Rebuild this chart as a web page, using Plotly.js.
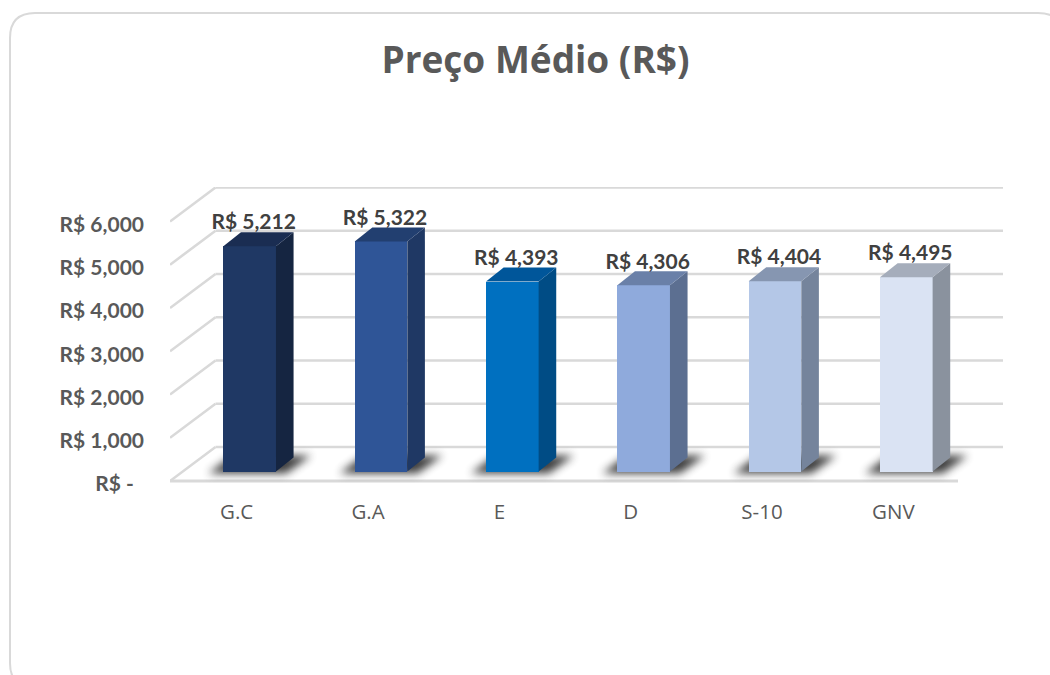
<!DOCTYPE html>
<html>
<head>
<meta charset="utf-8">
<script src="https://cdn.plot.ly/plotly-3.0.1.min.js"></script>
<style>html,body{margin:0;padding:0;background:#fff}#chart{width:1050px;height:675px}</style>
</head>
<body>
<div id="chart"></div>
<script>
// ---- data ----
const categories = ["G.C", "G.A", "E", "D", "S-10", "GNV"];
const values = [5212, 5322, 4393, 4306, 4404, 4495];
const valueLabels = ["R$ 5,212", "R$ 5,322", "R$ 4,393", "R$ 4,306", "R$ 4,404", "R$ 4,495"];
const tickValues = [0, 1000, 2000, 3000, 4000, 5000, 6000];
const tickLabels = ["R$ -\u00a0\u00a0", "R$ 1,000", "R$ 2,000", "R$ 3,000", "R$ 4,000", "R$ 5,000", "R$ 6,000"];
const frontColors = ["#1F3864", "#2F5597", "#0070C0", "#8FAADC", "#B4C7E7", "#DAE3F3"];
const sideColors  = ["#152541", "#1F3864", "#004C85", "#5C6F91", "#75849C", "#8A929E"];
const topColors   = ["#1A2D52", "#223F70", "#00569A", "#6A80A8", "#8696B1", "#A5ADBB"];

// ---- layout geometry (pixels) ----
const W = 1050, H = 675;
const L = 170, R = 1003, B = 481, T = 187;
const belowFloor = 10;             // extra plot height under the zero line
const pxPerCat = 131.33, pxPerUnit = 0.04325;
const X = dx => dx / pxPerCat;     // pixels -> x units
const Y = dy => dy / pxPerUnit;    // pixels -> y units
const xRange = [-0.5, -0.5 + (R - L) / pxPerCat];
const yRange = [-Y(belowFloor), (B - T) / pxPerUnit];

const wallDx = 45.5, wallDy = 34;  // floor depth
const barShift = 14, barLift = 9.4, barW = 52.6; // bar position inside the floor
const depthDx = 17.6, depthDy = 14;  // bar depth
const frontEndX = 958;
const tickLabelDrop = 3;           // labels sit slightly under their gridline ends

const xFront = i => i + X(barShift);
const baseY = Y(barLift);
const x0 = i => xFront(i) - X(barW) / 2;
const x1 = i => xFront(i) + X(barW) / 2;

function polygon(points, color, name) {
  return {type: "scatter", mode: "lines", x: points.map(p => p[0]), y: points.map(p => p[1]),
    fill: "toself", fillcolor: color, line: {width: 0}, hoverinfo: "skip", showlegend: false, name};
}

const traces = [];
traces.push({
  type: "bar", x: categories.map((c, i) => i), y: values, base: baseY,
  width: X(barW), offset: X(barShift) - X(barW) / 2,
  marker: {color: frontColors, line: {width: 0}},
  hoverinfo: "skip", showlegend: false
});
values.forEach((v, i) => {
  const yb = baseY, yt = baseY + v;
  traces.push(polygon([[x1(i), yb], [x1(i) + X(depthDx), yb + Y(depthDy)], [x1(i) + X(depthDx), yt + Y(depthDy)], [x1(i), yt], [x1(i), yb]], sideColors[i], "side"));
  traces.push(polygon([[x0(i), yt], [x1(i), yt], [x1(i) + X(depthDx), yt + Y(depthDy)], [x0(i) + X(depthDx), yt + Y(depthDy)], [x0(i), yt]], topColors[i], "top"));
});
traces.push({
  type: "scatter", mode: "text", x: values.map((v, i) => xFront(i) + X(4)),
  y: values.map(v => baseY + v + Y(depthDy + 8)), text: valueLabels,
  textposition: "middle center", cliponaxis: false,
  textfont: {family: "Lato, 'Open Sans', sans-serif", size: 21, color: "#404040", weight: 700},
  hoverinfo: "skip", showlegend: false
});

// ---- shapes ----
const grid = "#D9D9D9";
const shapes = [];
function line(xa, ya, xb, yb, w) {
  shapes.push({type: "line", layer: "below", xref: "x", yref: "y", x0: xa, y0: ya, x1: xb, y1: yb,
    line: {color: grid, width: w}});
}
const xMin = xRange[0], xMax = xRange[1];
tickValues.forEach(t => {
  line(xMin + X(wallDx), t + Y(wallDy), xMax, t + Y(wallDy), 2.6);
  line(xMin, t, xMin + X(wallDx), t + Y(wallDy), 2.6);
});
line(xMin, 0, xMin + X(frontEndX - L), 0, 2.8);

// floor shadows (softened after the plot is drawn)
const shadowFill = "rgb(30, 30, 30)";
values.forEach((v, i) => {
  const pts = [
    [x0(i) + X(-15), baseY + Y(-2)],
    [x0(i) + X(9), baseY + Y(16)],
    [x1(i) + X(35), baseY + Y(16)],
    [x1(i) + X(10), baseY + Y(-2)]
  ];
  shapes.push({type: "path", layer: "below", xref: "x", yref: "y",
    path: "M" + pts.map(p => p[0] + "," + p[1]).join(" L") + " Z",
    fillcolor: shadowFill, opacity: 0.85, line: {width: 0}});
});

// rounded chart-area border, running past the right and bottom of the image
const px = v => (v - L) / (R - L);
const py = v => (B + belowFloor - v) / (B + belowFloor - T);
const bl = 10, bt = 13, br = 1063, bb = 688, rad = 25;
shapes.push({type: "path", xref: "paper", yref: "paper", layer: "below",
  path: `M${px(bl + rad)},${py(bt)} L${px(br - rad)},${py(bt)} Q${px(br)},${py(bt)} ${px(br)},${py(bt + rad)} ` +
        `L${px(br)},${py(bb - rad)} Q${px(br)},${py(bb)} ${px(br - rad)},${py(bb)} L${px(bl + rad)},${py(bb)} ` +
        `Q${px(bl)},${py(bb)} ${px(bl)},${py(bb - rad)} L${px(bl)},${py(bt + rad)} Q${px(bl)},${py(bt)} ${px(bl + rad)},${py(bt)} Z`,
  line: {color: "#D9D9D9", width: 2}, fillcolor: "rgba(0,0,0,0)"});

const layout = {
  width: W, height: H,
  margin: {l: L, r: W - R, t: T, b: H - B - belowFloor, pad: 0},
  paper_bgcolor: "#fff", plot_bgcolor: "rgba(0,0,0,0)",
  showlegend: false, bargap: 0,
  title: {text: "Preço Médio (R$)", x: 535.5 / W, xanchor: "center", xref: "container", y: 1 - 60 / H, yanchor: "middle",
    font: {family: "'Open Sans', sans-serif", size: 37, color: "#595959", weight: 700}},
  xaxis: {type: "linear", range: xRange, tickmode: "array", tickvals: categories.map((c, i) => i + X(1)), ticktext: categories,
    showgrid: false, zeroline: false, showline: false, ticks: "", fixedrange: true, ticklabelstandoff: 6,
    tickfont: {family: "'Open Sans', sans-serif", size: 20.5, color: "#595959"}},
  yaxis: {type: "linear", range: yRange, tickmode: "array", tickvals: tickValues.map(t => t - Y(tickLabelDrop)), ticktext: tickLabels,
    showgrid: false, zeroline: false, showline: false, ticks: "", fixedrange: true, ticklabelstandoff: 25,
    tickfont: {family: "Lato, 'Open Sans', sans-serif", size: 21, color: "#595959", weight: 700}},
  shapes
};
Plotly.newPlot("chart", traces, layout, {displayModeBar: false, staticPlot: true}).then(gd => {
  gd.querySelectorAll(".shapelayer path").forEach(p => {
    if (p.style.fill === shadowFill) p.style.filter = "blur(4.5px)";
  });
});
</script>
</body>
</html>
